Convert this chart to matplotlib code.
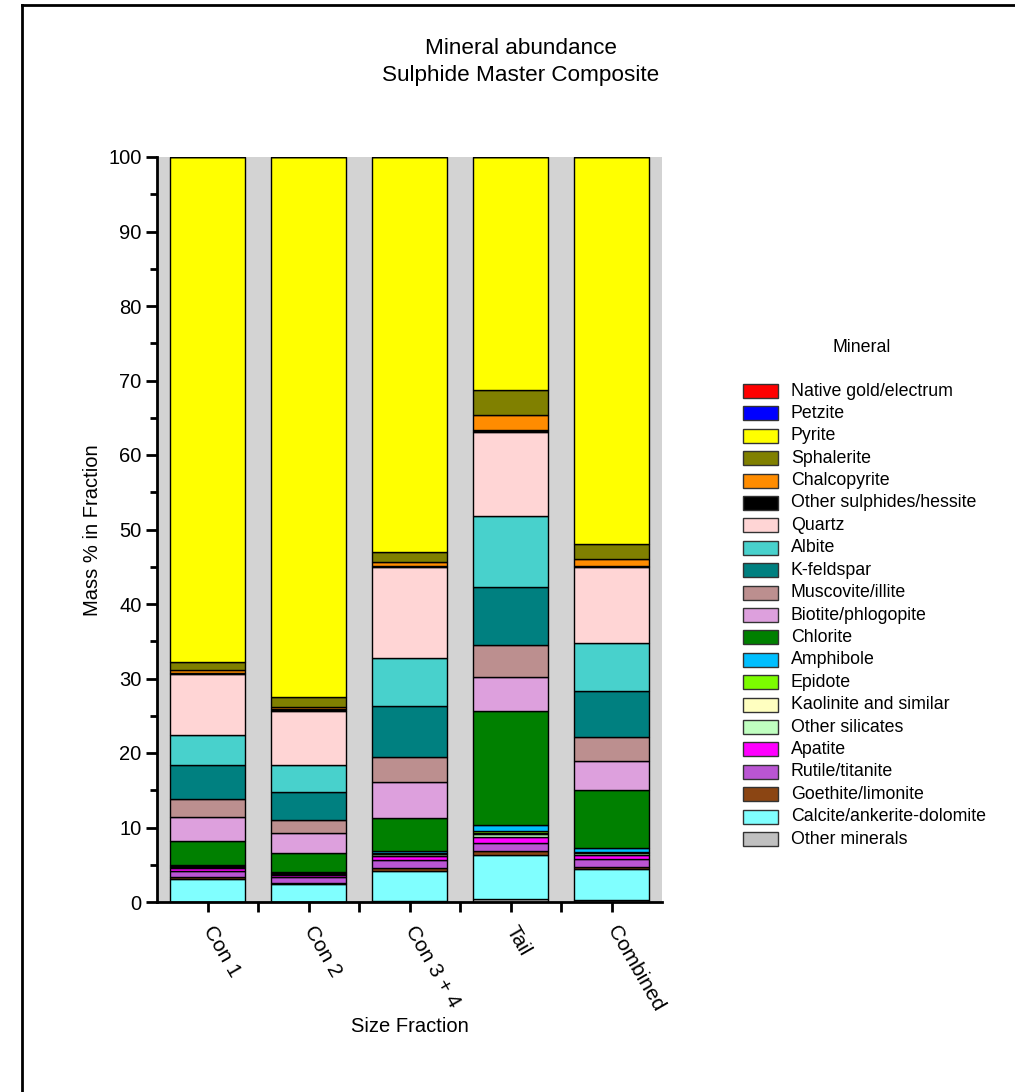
import matplotlib
matplotlib.use("Agg")
import matplotlib.pyplot as plt
from matplotlib.patches import Rectangle
import numpy as np

plt.rcParams["font.family"] = ["Liberation Sans", "DejaVu Sans"]

categories = ["Con 1", "Con 2", "Con 3 + 4", "Tail", "Combined"]

# Mass % per fraction, listed from the bottom of each stack upwards
other_minerals  = [0.05, 0.05, 0.10, 0.45, 0.25]
calcite         = [3.10, 2.40, 4.05, 5.80, 4.15]
goethite        = [0.15, 0.10, 0.35, 0.65, 0.35]
rutile          = [0.90, 0.80, 1.20, 1.05, 1.00]
apatite         = [0.40, 0.30, 0.50, 0.80, 0.55]
other_silicates = [0.15, 0.15, 0.20, 0.35, 0.25]
kaolinite       = [0.05, 0.05, 0.10, 0.20, 0.10]
epidote         = [0.05, 0.05, 0.10, 0.25, 0.10]
amphibole       = [0.15, 0.15, 0.25, 0.85, 0.45]
chlorite        = [3.25, 2.55, 4.40, 15.20, 7.90]
biotite         = [3.10, 2.60, 4.80, 4.60, 3.85]
muscovite       = [2.45, 1.85, 3.40, 4.30, 3.25]
k_feldspar      = [4.60, 3.75, 6.85, 7.80, 6.10]
albite          = [4.00, 3.55, 6.45, 9.50, 6.40]
quartz          = [8.20, 7.35, 12.25, 11.30, 10.20]
other_sulphides = [0.15, 0.15, 0.15, 0.30, 0.20]
chalcopyrite    = [0.40, 0.35, 0.50, 2.00, 0.90]
sphalerite      = [1.00, 1.30, 1.30, 3.30, 2.05]
pyrite          = [67.85, 72.50, 53.05, 31.30, 51.95]
petzite         = [0.0, 0.0, 0.0, 0.0, 0.0]
native_gold     = [0.0, 0.0, 0.0, 0.0, 0.0]

series = [
    ("Other minerals", other_minerals, "#C0C0C0"),
    ("Calcite/ankerite-dolomite", calcite, "#80FFFF"),
    ("Goethite/limonite", goethite, "#8B4513"),
    ("Rutile/titanite", rutile, "#BA55D3"),
    ("Apatite", apatite, "#FF00FF"),
    ("Other silicates", other_silicates, "#C0FFC0"),
    ("Kaolinite and similar", kaolinite, "#FFFFC0"),
    ("Epidote", epidote, "#7CFC00"),
    ("Amphibole", amphibole, "#00BFFF"),
    ("Chlorite", chlorite, "#008000"),
    ("Biotite/phlogopite", biotite, "#DDA0DD"),
    ("Muscovite/illite", muscovite, "#BC8F8F"),
    ("K-feldspar", k_feldspar, "#008080"),
    ("Albite", albite, "#48D1CC"),
    ("Quartz", quartz, "#FFD5D5"),
    ("Other sulphides/hessite", other_sulphides, "#000000"),
    ("Chalcopyrite", chalcopyrite, "#FF8C00"),
    ("Sphalerite", sphalerite, "#808000"),
    ("Pyrite", pyrite, "#FFFF00"),
    ("Petzite", petzite, "#0000FF"),
    ("Native gold/electrum", native_gold, "#FF0000"),
]

W, H = 1015, 1092
fig = plt.figure(figsize=(W / 100, H / 100), dpi=100)

def fx(px):
    return px / W

def fy(py):
    return 1 - py / H

# outer frame
fig.add_artist(plt.Line2D([fx(22), fx(22)], [fy(5), fy(1100)], color="black", lw=2))
fig.add_artist(plt.Line2D([fx(22), fx(1020)], [fy(5), fy(5)], color="black", lw=2))

ax = fig.add_axes([fx(157), fy(902), (662 - 157) / W, (902 - 157) / H])
ax.set_facecolor("#D3D3D3")

x = np.arange(len(categories))
bottom = np.zeros(len(categories))
for name, vals, color in series:
    vals = np.asarray(vals, dtype=float)
    ax.bar(x, vals, width=0.75, bottom=bottom, color=color,
           edgecolor="black", linewidth=1.0, label=name)
    bottom += vals

ax.set_xlim(-0.5, len(categories) - 0.5)
ax.set_ylim(0, 100)
for side in ("top", "right"):
    ax.spines[side].set_visible(False)
for side in ("left", "bottom"):
    ax.spines[side].set_linewidth(2)

ax.set_yticks(np.arange(0, 101, 10))
ax.set_yticks(np.arange(5, 100, 10), minor=True)
ax.tick_params(axis="y", which="major", length=8, width=2, labelsize=14.5, pad=3)
ax.tick_params(axis="y", which="minor", length=5, width=2)

ax.set_xticks(x)
ax.set_xticks(np.arange(0.5, len(categories) - 0.5, 1.0), minor=True)
ax.tick_params(axis="x", which="major", length=7, width=2, labelsize=15, pad=11)
ax.tick_params(axis="x", which="minor", length=7, width=2)
ax.set_xticklabels(categories, rotation=-60, ha="left", va="center",
                   rotation_mode="anchor")

fig.text(fx(93), fy(530), "Mass % in Fraction", rotation=90,
         ha="center", va="center", fontsize=14.5)
fig.text(fx(410), fy(1027), "Size Fraction", ha="center", va="center", fontsize=14.5)

fig.text(fx(521), fy(49), "Mineral abundance", ha="center", va="center", fontsize=16.2)
fig.text(fx(521), fy(75), "Sulphide Master Composite", ha="center", va="center", fontsize=16.2)

# legend, top entry = top of stack
fig.text(fx(862), fy(347), "Mineral", ha="center", va="center", fontsize=12.8)
y0, dy = 391, 22.4
for i, (name, vals, color) in enumerate(reversed(series)):
    yc = y0 + i * dy
    fig.add_artist(Rectangle((fx(743), fy(yc + 7)), 35 / W, 14 / H,
                             facecolor=color, edgecolor="#333333", linewidth=1.0,
                             transform=fig.transFigure))
    fig.text(fx(791), fy(yc), name, ha="left", va="center", fontsize=12.8)

fig.savefig("out.png", dpi=100)
